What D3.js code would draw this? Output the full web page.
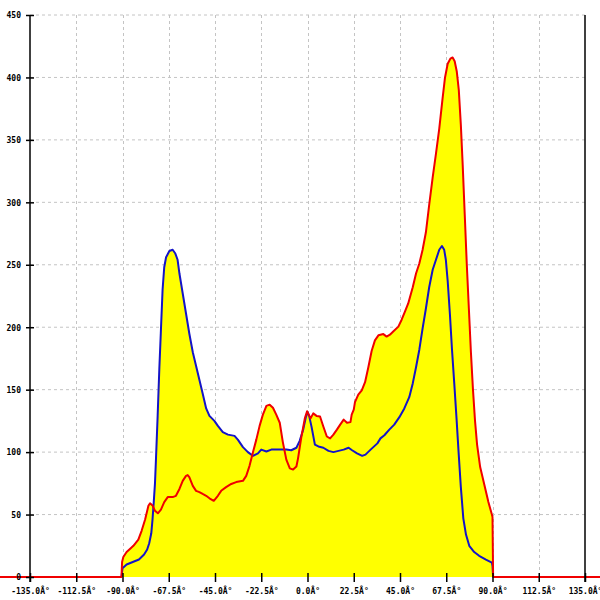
<!DOCTYPE html>
<html>
<head>
<meta charset="utf-8">
<script src="https://cdn.jsdelivr.net/npm/d3@7"></script>
<style>
  html, body { margin: 0; padding: 0; background: #fff; }
  svg { display: block; }
</style>
</head>
<body>
<div id="chart"></div>
<script>
// ---- data ----
const xTicks = [-135, -112.5, -90, -67.5, -45, -22.5, 0, 22.5, 45, 67.5, 90, 112.5, 135];
const xTickLabels = ["-135.0Â°", "-112.5Â°", "-90.0Â°", "-67.5Â°", "-45.0Â°", "-22.5Â°", "0.0Â°",
                     "22.5Â°", "45.0Â°", "67.5Â°", "90.0Â°", "112.5Â°", "135.0Â°"];
const yTicks = [0, 50, 100, 150, 200, 250, 300, 350, 400, 450];
const yTickLabels = ["0", "50", "100", "150", "200", "250", "300", "350", "400", "450"];

const blueAngles = [-90.5, -90, -88, -85, -82, -79.5, -78, -77, -76, -75.4, -74.8, -74.2, -73.7, -72.9, -72.1,
  -71.3, -70.5, -69.7, -68.8, -67.2, -65.6, -64.3, -63.2, -62.3, -60.7, -59.1, -57.5, -55.8, -54.2, -52.6,
  -51.0, -49.3, -47.7, -45.3, -43.6, -41.2, -38.7, -35.5, -33.9, -31.4, -29.0, -26.5, -24.1, -22.5, -20.0,
  -17.6, -15.2, -12.7, -10.3, -7.9, -5.4, -3.8, -2.1, -0.8, 0, 0.8, 2.0, 3.6, 5.3, 7.7, 10.2, 12.6, 15.1,
  17.6, 20.0, 21.7, 24.1, 26.6, 28.2, 30.7, 34.0, 35.5, 37.4, 39.8, 42.2, 44.7, 47.1, 49.5, 51.2, 52.8,
  54.4, 56.0, 57.6, 59.2, 60.9, 62.5, 64.1, 65.4, 66.5, 67.3, 68.2, 69.3, 70.3, 71.4, 72.5, 73.5, 74.6,
  75.8, 77.1, 78.7, 81.1, 83.5, 86.8, 89.7, 90, 90.3];
const blueValues = [0, 7, 10, 12, 14, 18, 22, 27, 35, 46, 60, 75, 95, 129, 166,
  198, 230, 248, 256, 261, 262, 259, 254, 243, 227, 211, 195, 180, 169, 158,
  147, 135, 129, 125, 121, 116, 114, 113, 110, 104, 100, 97, 99, 102, 100.5,
  102, 102, 102, 102, 101.5, 103.5, 109, 118, 128, 132, 129, 120, 106, 104.5, 103.5, 101, 100, 101,
  102, 103.5, 101.5, 99, 97, 98, 102, 107, 111, 113.5, 118, 122, 128, 135, 144, 155, 168,
  182, 199, 215, 232, 246, 254, 262, 265, 262, 254, 237, 210, 182, 155, 127, 100, 72,
  47, 34, 25, 20, 17, 14, 11.5, 9, 0];

const redAngles = [-180, -90.5, -90.2, -89.6, -88, -86, -84.7, -82.3, -80.7, -79, -77.4, -76.6, -75.3, -74.2,
  -72.8, -71.3, -69.7, -68, -65.6, -64, -62.3, -60.7, -59.1, -58.3, -57.5, -55.8, -54.2, -52.6, -51,
  -49.3, -47.7, -45.6, -43.6, -42, -39.6, -37.1, -34.7, -31.4, -29.8, -28.2, -26.5, -24.9, -23.3, -21.7,
  -20, -18.4, -16.8, -15.2, -13.5, -12, -10.3, -8.6, -7, -5.4, -4.6, -3, -1.3, -0.2, 1.5, 2.8, 4.4, 6.1,
  7.7, 9.4, 11, 12.6, 14.3, 15.9, 17.6, 19.2, 20.9, 21.5, 22.5, 23.1, 24.7, 26.4, 28, 29.6, 31.2, 32.8,
  34.5, 36.9, 38.5, 40.1, 41.7, 44.2, 45.8, 47.4, 49, 51.2, 52.8, 54.4, 56, 57.6, 59.2, 60.9, 62.5, 64.1,
  65.7, 66.9, 68.2, 69.5, 70.6, 71.6, 72.6, 73.6, 74.6, 75.5, 76.5, 77.5, 78.5, 79.5, 80.5, 81.5, 82.5,
  84, 86, 88, 89.7, 90, 90.3, 180];
const redValues = [0, 0, 12, 16, 20, 23, 25, 30, 37, 46, 57, 59, 57, 53,
  51, 54, 60, 64, 64, 65, 70.5, 77, 81, 81.6, 80, 73, 69, 68, 66.5,
  65, 63, 61, 65, 69, 72, 74.5, 76, 77, 81, 89, 100, 110, 121, 130,
  137, 138, 135.5, 130, 123.5, 108, 94, 87, 86, 88.5, 95, 112, 127, 132.7, 127, 131, 129, 128.5,
  120.5, 112.5, 111, 114, 118, 122, 126, 123.5, 124, 130, 134, 140, 146, 149.5, 156, 168, 181, 189.5,
  193.5, 194.5, 192.5, 194, 196.5, 200.5, 206, 212.5, 219, 232, 243, 251, 262, 276, 298, 320, 339, 359,
  383, 400, 411, 415, 416, 413, 405, 390, 362, 330, 290, 250, 215, 180, 150, 125, 106,
  88, 74, 60, 50, 48, 0, 0];

// ---- chart ----
const W = 600, H = 600;
const svg = d3.select("#chart").append("svg").attr("width", W).attr("height", H);
svg.append("defs").append("clipPath").attr("id", "clip")
  .append("rect").attr("x", 0).attr("y", 0).attr("width", W).attr("height", H);

const x = d3.scaleLinear().domain([-135, 135]).range([30, 585]);
const y = d3.scaleLinear().domain([0, 450]).range([577, 15]);

const blue = blueAngles.map((a, i) => ({a, v: blueValues[i]}));
const red = redAngles.map((a, i) => ({a, v: redValues[i]}));

// grid
const grid = svg.append("g");
grid.selectAll("line.h").data(yTicks.filter(d => d > 0)).enter().append("line")
  .attr("x1", x(-135)).attr("x2", x(135))
  .attr("y1", d => y(d)).attr("y2", d => y(d))
  .attr("stroke", "#c4c4c4").attr("stroke-dasharray", "3,3").attr("stroke-width", 1);
grid.selectAll("line.v").data(xTicks.filter(d => d > -135 && d < 135)).enter().append("line")
  .attr("x1", d => Math.round(x(d)) + 0.5).attr("x2", d => Math.round(x(d)) + 0.5)
  .attr("y1", y(450)).attr("y2", y(0))
  .attr("stroke", "#c4c4c4").attr("stroke-dasharray", "3,3").attr("stroke-width", 1);

// fills
const area = d3.area().x(d => x(d.a)).y0(y(0)).y1(d => y(d.v));
const plot = svg.append("g").attr("clip-path", "url(#clip)");
plot.append("path").datum(red).attr("d", area).attr("fill", "#ffff00");
plot.append("path").datum(blue).attr("d", area).attr("fill", "#ffff00");

// axes lines
svg.append("line").attr("x1", x(-135)).attr("x2", x(-135)).attr("y1", y(450)).attr("y2", y(0) + 5)
  .attr("stroke", "#000").attr("stroke-width", 1.5);
svg.append("line").attr("x1", x(135)).attr("x2", x(135)).attr("y1", y(450)).attr("y2", y(0) + 5)
  .attr("stroke", "#000").attr("stroke-width", 1.5);

const fontFam = "'DejaVu Sans Mono', monospace";

const xAxis = d3.axisBottom(x).tickValues(xTicks)
  .tickFormat((d, i) => xTickLabels[i]).tickSize(4).tickPadding(0);
const gx = svg.append("g").attr("transform", `translate(0,${y(0)})`).call(xAxis);
gx.select(".domain").remove();
gx.selectAll(".tick line").attr("y1", -4).attr("y2", 5).attr("stroke", "#000").attr("stroke-width", 1.5);
gx.selectAll(".tick text").attr("y", 17).attr("dy", null)
  .attr("font-family", fontFam).attr("font-size", "8px").attr("font-weight", "bold").attr("fill", "#000");

const yAxis = d3.axisLeft(y).tickValues(yTicks)
  .tickFormat((d, i) => yTickLabels[i]).tickSize(4).tickPadding(0);
const gy = svg.append("g").attr("transform", `translate(${x(-135)},0)`).call(yAxis);
gy.select(".domain").remove();
gy.selectAll(".tick line").attr("x1", -4).attr("x2", 4).attr("stroke", "#000").attr("stroke-width", 1.5);
gy.selectAll(".tick text").attr("x", -9).attr("dy", "0.35em")
  .attr("font-family", fontFam).attr("font-size", "8px").attr("font-weight", "bold").attr("fill", "#000");

// lines
const line = d3.line().x(d => x(d.a)).y(d => y(d.v));
plot.append("path").datum(blue).attr("d", line).attr("fill", "none")
  .attr("stroke", "#1414c8").attr("stroke-width", 2).attr("stroke-linejoin", "round");
plot.append("path").datum(red).attr("d", line).attr("fill", "none")
  .attr("stroke", "#f00000").attr("stroke-width", 2).attr("stroke-linejoin", "round");
</script>
</body>
</html>
